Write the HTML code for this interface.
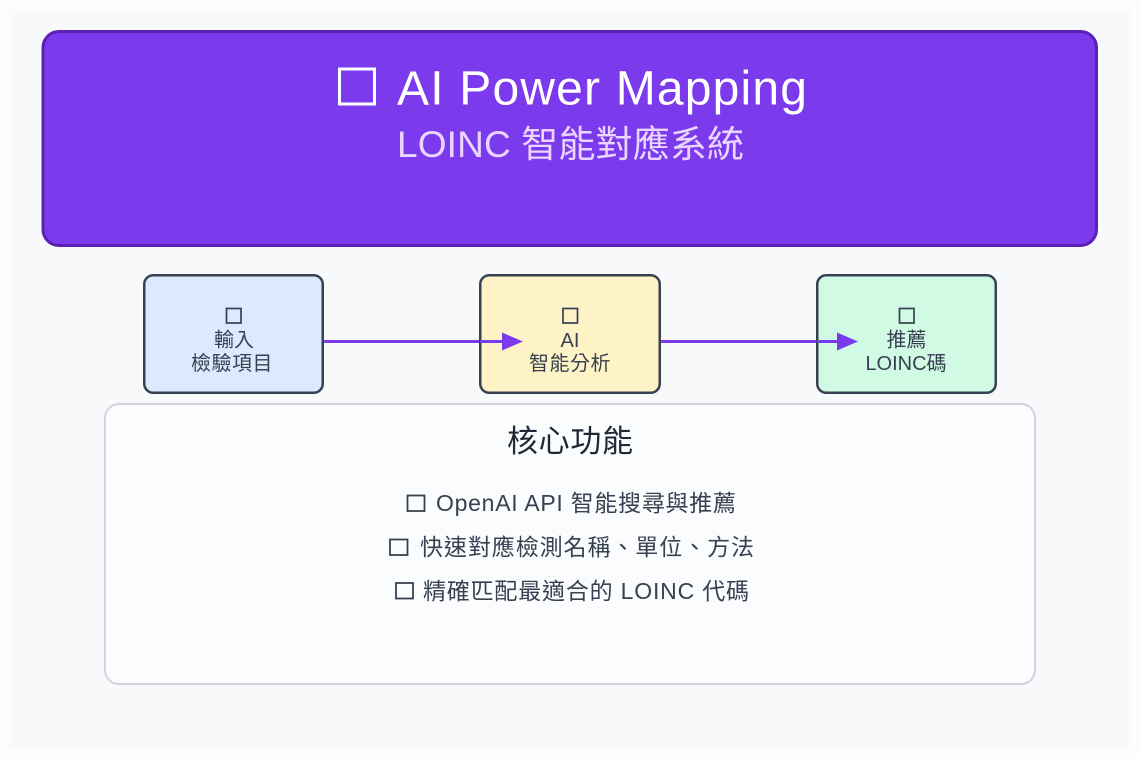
<!DOCTYPE html>
<html>
<head>
<meta charset="utf-8">
<style>
  html, body { margin:0; padding:0; background:#fdfdfe; }
  svg { display:block; }
  text { font-family: "Liberation Sans", "Noto Sans CJK TC", sans-serif; }
</style>
</head>
<body>
<svg width="1140" height="757" viewBox="0 0 1140 757" xmlns="http://www.w3.org/2000/svg">
  <!-- page background -->
  <rect x="0" y="0" width="1140" height="757" fill="#fdfdfe"/>
  <rect x="9.5" y="9.5" width="1121" height="738" fill="#f8f9fa"/>

  <!-- header -->
  <rect x="43" y="31.5" width="1053.5" height="214" rx="16" ry="16" fill="#7c3aed" stroke="#5b21b6" stroke-width="3"/>
  <rect x="339.5" y="69" width="35" height="35" fill="none" stroke="#ffffff" stroke-width="3"/>
  <text x="397" y="104.5" font-size="48" fill="#ffffff" textLength="410" lengthAdjust="spacing">AI Power Mapping</text>
  <text x="397" y="157" font-size="37" fill="#e9d5ff" textLength="347" lengthAdjust="spacing">LOINC 智能對應系統</text>

  <!-- arrows -->
  <line x1="324" y1="341.5" x2="504" y2="341.5" stroke="#7c3aed" stroke-width="3"/>
  <line x1="660" y1="341.5" x2="839" y2="341.5" stroke="#7c3aed" stroke-width="3"/>

  <!-- box 1 -->
  <rect x="144.25" y="275.25" width="178.5" height="117.5" rx="9" ry="9" fill="#dbeafe" stroke="#374151" stroke-width="2.5"/>
  <rect x="226.5" y="308.5" width="14.5" height="14.5" fill="none" stroke="#374151" stroke-width="1.7"/>
  <text x="234" y="346.5" font-size="20" fill="#374151" text-anchor="middle">輸入</text>
  <text x="232" y="370" font-size="20" fill="#374151" text-anchor="middle" letter-spacing="0.5">檢驗項目</text>

  <!-- box 2 -->
  <rect x="480.25" y="275.25" width="179.5" height="117.5" rx="9" ry="9" fill="#fef3c7" stroke="#374151" stroke-width="2.5"/>
  <rect x="563" y="308.5" width="14.5" height="14.5" fill="none" stroke="#374151" stroke-width="1.7"/>
  <text x="570" y="347" font-size="20" fill="#374151" text-anchor="middle">AI</text>
  <text x="570" y="370" font-size="20" fill="#374151" text-anchor="middle" letter-spacing="0.5">智能分析</text>

  <!-- box 3 -->
  <rect x="817.25" y="275.25" width="178.5" height="117.5" rx="9" ry="9" fill="#d1fae5" stroke="#374151" stroke-width="2.5"/>
  <rect x="899.5" y="308.5" width="14.5" height="14.5" fill="none" stroke="#374151" stroke-width="1.7"/>
  <text x="906.5" y="346.5" font-size="20" fill="#374151" text-anchor="middle">推薦</text>
  <text x="906" y="370" font-size="20" fill="#374151" text-anchor="middle">LOINC碼</text>

  <!-- arrowheads on top of boxes -->
  <line x1="480" y1="341.5" x2="504" y2="341.5" stroke="#7c3aed" stroke-width="3"/>
  <polygon points="502,332.5 523,341.5 502,350.5" fill="#7c3aed"/>
  <line x1="817" y1="341.5" x2="839" y2="341.5" stroke="#7c3aed" stroke-width="3"/>
  <polygon points="837,332.5 858,341.5 837,350.5" fill="#7c3aed"/>

  <!-- core features panel -->
  <rect x="105" y="404" width="930" height="280" rx="14" ry="14" fill="#fbfcfd" stroke="#d1d5db" stroke-width="2"/>
  <text x="507" y="452" font-size="31" fill="#1f2937" textLength="126" lengthAdjust="spacing">核心功能</text>

  <rect x="407.5" y="495.5" width="17" height="15.5" fill="none" stroke="#374151" stroke-width="1.8"/>
  <text x="436" y="511" font-size="23" fill="#374151" textLength="300" lengthAdjust="spacing">OpenAI API 智能搜尋與推薦</text>

  <rect x="390" y="539.5" width="17.5" height="15.5" fill="none" stroke="#374151" stroke-width="1.8"/>
  <text x="420" y="555" font-size="23" fill="#374151" textLength="334" lengthAdjust="spacing">快速對應檢測名稱、單位、方法</text>

  <rect x="396" y="583" width="17" height="15.5" fill="none" stroke="#374151" stroke-width="1.8"/>
  <text x="423" y="599" font-size="23" fill="#374151" textLength="326" lengthAdjust="spacing">精確匹配最適合的 LOINC 代碼</text>
</svg>
</body>
</html>
